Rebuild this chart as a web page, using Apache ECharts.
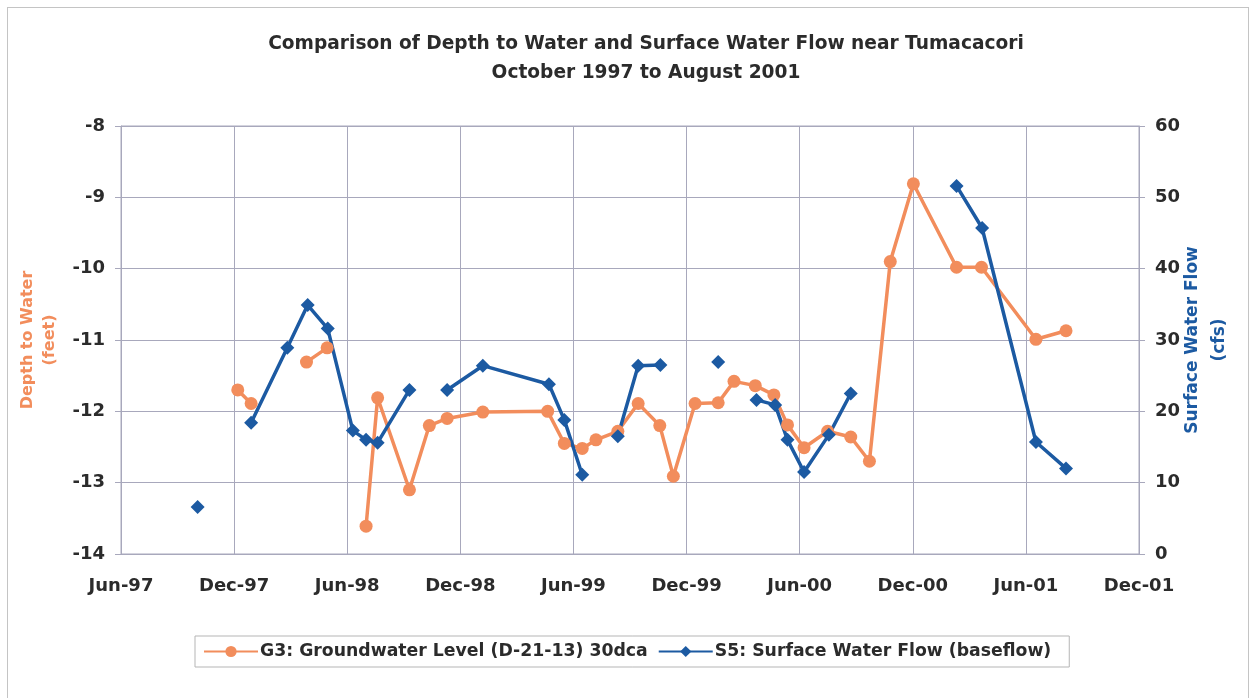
<!DOCTYPE html>
<html lang="en" style="height: 100%">

<head>
  <meta charset="utf-8" />
</head>

<body style="height: 100%; margin: 0; background: #fff">
  <div style="position:absolute; left:7px; top:7px; width:1242px; height:700px; border:1px solid #c4c4c4; box-sizing:border-box;"></div>
  <div id="container" style="position:absolute; left:0; top:0; width:1256px; height:698px"></div>

  <script type="text/javascript" src="https://fastly.jsdelivr.net/npm/echarts@6.0.0/dist/echarts.min.js"></script>

  <script type="text/javascript">
    // G3 groundwater level, depth to water (feet); null = gap in record
    var gwDates = [
      "1997-12-07", "1997-12-29", "1998-02-10", "1998-03-27", "1998-04-29", "1998-06-01",
      "1998-07-01", "1998-07-20", "1998-09-10", "1998-10-12", "1998-11-10", "1999-01-07",
      "1999-04-20", "1999-05-17", "1999-06-15", "1999-07-07", "1999-08-12", "1999-09-14",
      "1999-10-19", "1999-11-10", "1999-12-15", "2000-01-22", "2000-02-16", "2000-03-21",
      "2000-04-20", "2000-05-12", "2000-06-08", "2000-07-16", "2000-08-23", "2000-09-22",
      "2000-10-26", "2000-12-02", "2001-02-10", "2001-03-21", "2001-06-17", "2001-08-05"
    ];
    var gwDepth = [
      -11.70, -11.89, null, -11.31, -11.11, null,
      -13.61, -11.81, -13.10, -12.20, -12.10, -12.01,
      -12.00, -12.45, -12.52, -12.40, -12.28, -11.89,
      -12.20, -12.91, -11.89, -11.88, -11.58, -11.64,
      -11.77, -12.19, -12.51, -12.28, -12.36, -12.70,
      -9.90, -8.81, -9.98, -9.98, -10.99, -10.87
    ];

    // S5 surface water baseflow (cfs); null = gap in record
    var swDates = [
      "1997-10-03", "1997-11-15", "1997-12-29", "1998-02-24", "1998-03-29", "1998-04-30",
      "1998-06-10", "1998-07-01", "1998-07-20", "1998-09-10", "1998-10-10", "1998-11-10",
      "1999-01-07", "1999-04-22", "1999-05-17", "1999-06-15", "1999-07-10", "1999-08-12",
      "1999-09-14", "1999-10-20", "1999-12-01", "2000-01-22", "2000-02-20", "2000-03-23",
      "2000-04-22", "2000-05-12", "2000-06-08", "2000-07-18", "2000-08-23", "2000-11-01",
      "2001-02-10", "2001-03-22", "2001-06-17", "2001-08-05"
    ];
    var swFlow = [
      6.6, null, 18.4, 28.9, 34.9, 31.6,
      17.3, 16.0, 15.6, 23.0, null, 23.0,
      26.4, 23.8, 18.8, 11.1, null, 16.5,
      26.4, 26.5, null, 26.9, null, 21.6,
      20.9, 16.0, 11.5, 16.7, 22.5, null,
      51.6, 45.7, 15.7, 12.0
    ];

    var xTickLabels = ["Jun-97", "Dec-97", "Jun-98", "Dec-98", "Jun-99", "Dec-99", "Jun-00", "Dec-00", "Jun-01", "Dec-01"];

    // months since 1 Jun 1997, fractional
    function toMonths(s) {
      var p = s.split("-").map(Number);
      var dim = new Date(p[0], p[1], 0).getDate();
      return (p[0] - 1997) * 12 + (p[1] - 6) + (p[2] - 1) / dim;
    }
    function pairs(dates, vals) {
      return dates.map(function (d, i) {
        return [toMonths(d), vals[i] === null ? "-" : vals[i]];
      });
    }

    var ORANGE = "#f28d5c";
    var BLUE = "#1c5aa2";
    var GRID = "#a8a8bc";
    var TXT = "#2b2b2b";
    var FONT = "DejaVu Sans";

    var dom = document.getElementById("container");
    var myChart = echarts.init(dom, null, { renderer: "canvas" });

    var option = {
      animation: false,
      backgroundColor: "transparent",
      title: {
        text: "Comparison of Depth to Water and Surface Water Flow near Tumacacori\nOctober 1997 to August 2001",
        left: 641,
        textAlign: "center",
        top: 25,
        textStyle: {
          fontFamily: FONT,
          fontSize: 18.6,
          fontWeight: "bold",
          color: TXT,
          lineHeight: 29,
        },
      },
      legend: {
        bottom: 31,
        left: 195,
        padding: [7, 18, 7, 8],
        borderColor: "#b5b5b5",
        borderWidth: 1,
        itemWidth: 54,
        itemHeight: 14,
        itemGap: 10,
        textStyle: { fontFamily: FONT, fontSize: 17.3, fontWeight: "bold", color: TXT, padding: [0, 0, 0, -3] },
        data: ["G3: Groundwater Level (D-21-13) 30dca", "S5: Surface Water Flow (baseflow)"],
      },
      grid: {
        left: 121,
        right: 117,
        top: 126,
        bottom: 144,
        show: true,
        borderColor: GRID,
        borderWidth: 1,
      },
      xAxis: {
        type: "value",
        min: 0,
        max: 54,
        interval: 6,
        axisLine: { show: true, lineStyle: { color: GRID } },
        axisTick: { show: false },
        splitLine: { show: true, lineStyle: { color: GRID, width: 1 } },
        axisLabel: {
          margin: 23,
          fontFamily: FONT,
          fontSize: 18,
          fontWeight: "bold",
          color: TXT,
          formatter: function (v) { return xTickLabels[Math.round(v / 6)]; },
        },
      },
      yAxis: [
        {
          type: "value",
          min: -14,
          max: -8,
          interval: 1,
          position: "left",
          name: "Depth to Water\n(feet)",
          nameLocation: "middle",
          nameRotate: 90,
          nameGap: 60,
          nameMoveOverlap: false,
          nameTextStyle: { fontFamily: FONT, fontSize: 16, fontWeight: "bold", color: ORANGE, lineHeight: 22 },
          axisLine: { show: true, lineStyle: { color: GRID } },
          axisTick: { show: true, length: 6, lineStyle: { color: GRID } },
          splitLine: { show: true, lineStyle: { color: GRID, width: 1 } },
          axisLabel: { margin: 16, fontFamily: FONT, fontSize: 18, fontWeight: "bold", color: TXT },
        },
        {
          type: "value",
          min: 0,
          max: 60,
          interval: 10,
          position: "right",
          name: "Surface Water Flow\n(cfs)",
          nameLocation: "middle",
          nameRotate: 90,
          nameGap: 40,
          nameMoveOverlap: false,
          nameTextStyle: { fontFamily: FONT, fontSize: 17, fontWeight: "bold", color: BLUE, lineHeight: 27 },
          axisLine: { show: true, lineStyle: { color: GRID } },
          axisTick: { show: true, length: 6, lineStyle: { color: GRID } },
          splitLine: { show: false },
          axisLabel: { margin: 16, fontFamily: FONT, fontSize: 18, fontWeight: "bold", color: TXT },
        },
      ],
      series: [
        {
          name: "G3: Groundwater Level (D-21-13) 30dca",
          type: "line",
          yAxisIndex: 0,
          data: pairs(gwDates, gwDepth),
          connectNulls: false,
          symbol: "circle",
          symbolSize: 13,
          showAllSymbol: true,
          color: ORANGE,
          lineStyle: { color: ORANGE, width: 3.5 },
          itemStyle: { color: ORANGE },
        },
        {
          name: "S5: Surface Water Flow (baseflow)",
          type: "line",
          yAxisIndex: 1,
          data: pairs(swDates, swFlow),
          connectNulls: false,
          symbol: "diamond",
          symbolSize: 14,
          showAllSymbol: true,
          color: BLUE,
          lineStyle: { color: BLUE, width: 3.5 },
          itemStyle: { color: BLUE },
        },
      ],
    };

    myChart.setOption(option);
    window.addEventListener("resize", myChart.resize);
  </script>
</body>

</html>
